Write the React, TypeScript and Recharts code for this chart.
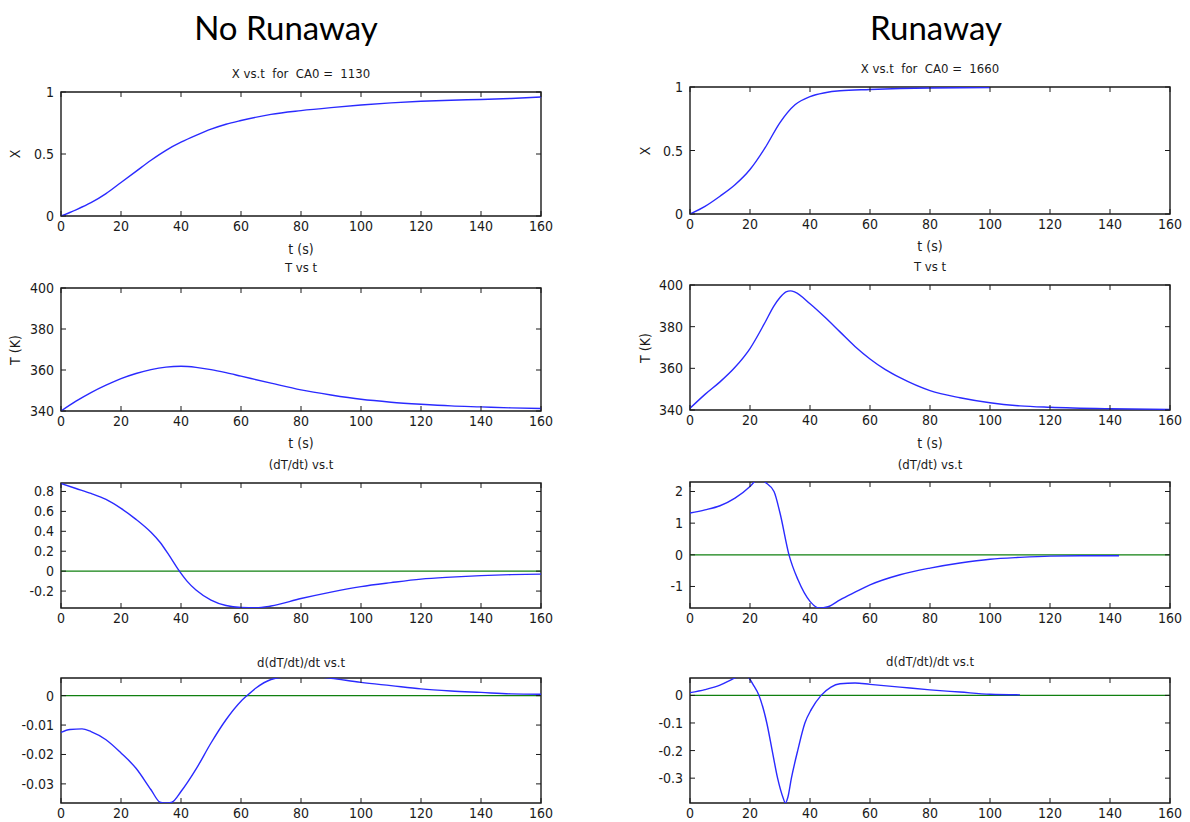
import React from "react";
import { LineChart, Line, XAxis, YAxis, ReferenceLine, ReferenceArea } from "recharts";

// ---------- data ----------
const xTicks = [0, 20, 40, 60, 80, 100, 120, 140, 160];

// No Runaway (CA0 = 1130)
const tX1 = [0, 5, 10, 15, 20, 25, 30, 35, 40, 45, 50, 55, 60, 70, 80, 90, 100, 110, 120, 130, 140, 150, 160];
const vX1 = [0, 0.05, 0.107, 0.18, 0.27, 0.36, 0.45, 0.53, 0.595, 0.65, 0.7, 0.74, 0.77, 0.82, 0.85, 0.874, 0.895, 0.912, 0.925, 0.934, 0.94, 0.948, 0.96];

const tT1 = [0, 5, 10, 15, 20, 25, 30, 35, 40, 45, 50, 55, 60, 70, 80, 90, 100, 110, 120, 130, 140, 150, 160];
const vT1 = [340, 344.8, 349, 352.6, 355.8, 358.3, 360.2, 361.4, 361.8, 361.3, 360.2, 358.7, 357, 353.6, 350.3, 347.8, 345.7, 344.3, 343.3, 342.5, 342, 341.5, 341.2];

const tD1 = [0, 5, 10, 15, 20, 25, 30, 33, 36, 39, 42, 45, 50, 55, 60, 65, 70, 80, 90, 100, 110, 120, 130, 140, 150, 160];
const vD1 = [0.88, 0.83, 0.78, 0.72, 0.63, 0.52, 0.39, 0.29, 0.16, 0.02, -0.1, -0.19, -0.29, -0.345, -0.365, -0.368, -0.35, -0.275, -0.21, -0.155, -0.115, -0.08, -0.06, -0.045, -0.035, -0.03];

const tDD1 = [0, 3, 7, 10, 15, 20, 25, 30, 33, 35, 37, 40, 45, 50, 55, 60, 62, 65, 70, 75, 80, 85, 90, 100, 110, 120, 130, 140, 150, 160];
const vDD1 = [-0.0125, -0.0115, -0.0113, -0.0122, -0.015, -0.0195, -0.0247, -0.032, -0.0362, -0.0365, -0.0362, -0.0326, -0.025, -0.0161, -0.0082, -0.0019, 0, 0.0026, 0.0055, 0.0064, 0.0068, 0.0065, 0.0059, 0.0045, 0.0034, 0.0023, 0.0016, 0.0011, 0.0006, 0.0005];

// Runaway (CA0 = 1660)
const tX2 = [0, 5, 10, 15, 20, 25, 30, 35, 40, 45, 50, 60, 70, 80, 90, 100];
const vX2 = [0, 0.06, 0.14, 0.23, 0.35, 0.52, 0.72, 0.86, 0.925, 0.955, 0.97, 0.98, 0.988, 0.992, 0.994, 0.995];

const tT2 = [0, 5, 10, 15, 20, 25, 28, 30, 32, 33.5, 35, 40, 45, 50, 55, 60, 65, 70, 80, 90, 100, 110, 120, 140, 160];
const vT2 = [340.8, 347.5, 353.5, 360.5, 369.5, 382, 390, 394, 396.7, 397.2, 396.6, 391, 384.5, 377.5, 370.5, 364.5, 359.5, 355.5, 349.3, 345.9, 343.5, 342, 341.3, 340.6, 340.3];

const tD2 = [0, 5, 10, 15, 20, 22, 23.5, 25, 28, 30, 33, 36, 40, 43, 46, 50, 55, 60, 70, 80, 90, 100, 110, 120, 130, 143];
const vD2 = [1.32, 1.42, 1.55, 1.79, 2.16, 2.35, 2.42, 2.3, 2.0, 1.32, 0, -0.79, -1.47, -1.68, -1.64, -1.42, -1.18, -0.95, -0.63, -0.42, -0.26, -0.14, -0.08, -0.04, -0.03, -0.03];

const tDD2 = [0, 5, 10, 14, 16, 18, 19.5, 21, 23, 25.6, 27.4, 29.2, 31, 31.8, 32.6, 33.8, 35.9, 38.3, 40.5, 43.7, 47, 50, 55, 60, 70, 80, 90, 100, 110];
const vDD2 = [0.01, 0.021, 0.037, 0.058, 0.068, 0.072, 0.065, 0.04, 0, -0.1, -0.2, -0.3, -0.37, -0.39, -0.37, -0.3, -0.2, -0.1, -0.05, 0, 0.03, 0.042, 0.045, 0.04, 0.03, 0.02, 0.012, 0.004, 0.002];

const yTicksX = [0, 0.5, 1];
const yTicksT = [340, 360, 380, 400];
const yTicksD1 = [-0.2, 0, 0.2, 0.4, 0.6, 0.8];
const yTicksDD1 = [-0.03, -0.02, -0.01, 0];
const yTicksD2 = [-1, 0, 1, 2];
const yTicksDD2 = [-0.3, -0.2, -0.1, 0];

const zip = (t: number[], v: number[]) => t.map((tt, i) => ({ t: tt, v: v[i] }));

// ---------- styles ----------
const FONT = "'Liberation Sans Narrow', 'DejaVu Sans Condensed', 'Liberation Sans', Arial, sans-serif";
const INK = "#1a1a1a";
const BLUE = "#2a2aff";
const GREEN = "#108010";

const ML = 70; // chart left gutter
const MT = 10; // chart top gutter

type PanelProps = {
  left: number; top: number; w: number; h: number;
  data: { t: number; v: number }[];
  domain: [number, number];
  yTicks: number[];
  title: string; titleY: number;
  xlabelY?: number;
  ylabel?: string; ylabelX?: number;
  zero?: boolean;
};

function Panel(p: PanelProps) {
  const { left, top, w, h, data, domain, yTicks, title, titleY, xlabelY, ylabel, ylabelX, zero } = p;
  const bottomY = MT + h;
  const rightX = ML + w;
  const XTick = (props: any) => {
    const { x, payload } = props;
    return (
      <g>
        <line x1={x} x2={x} y1={bottomY} y2={bottomY - 5} stroke={INK} strokeWidth={1} />
        <line x1={x} x2={x} y1={MT} y2={MT + 5} stroke={INK} strokeWidth={1} />
        <text x={x} y={bottomY + 15} textAnchor="middle" fontFamily={FONT} fontSize={14} fill={INK}>
          {payload.value}
        </text>
      </g>
    );
  };
  const YTick = (props: any) => {
    const { y, payload } = props;
    return (
      <g>
        <line x1={ML} x2={ML + 5} y1={y} y2={y} stroke={INK} strokeWidth={1} />
        <line x1={rightX} x2={rightX - 5} y1={y} y2={y} stroke={INK} strokeWidth={1} />
        <text x={ML - 7} y={y + 5} textAnchor="end" fontFamily={FONT} fontSize={14} fill={INK}>
          {payload.value}
        </text>
      </g>
    );
  };
  return (
    <>
      <div style={{ position: "absolute", left: left - ML, top: top - MT }}>
        <LineChart width={w + ML + 20} height={h + MT + 26} data={data}
          margin={{ top: MT, right: 20, bottom: 0, left: 0 }}>
          <XAxis dataKey="t" type="number" domain={[0, 160]} ticks={xTicks} allowDataOverflow
            height={26} tick={XTick} tickLine={false} axisLine={false} interval={0} />
          <YAxis type="number" domain={domain} ticks={yTicks} allowDataOverflow
            width={ML} tick={YTick} tickLine={false} axisLine={false} interval={0} />
          {zero && <ReferenceLine y={0} stroke={GREEN} strokeWidth={1.3} />}
          <Line dataKey="v" type="monotone" stroke={BLUE} strokeWidth={1.4} dot={false}
            isAnimationActive={false} />
          <ReferenceArea x1={0} x2={160} y1={domain[0]} y2={domain[1]} fill="none" fillOpacity={0}
            stroke={INK} strokeWidth={1.4} ifOverflow="visible" />
        </LineChart>
      </div>
      <div style={{ position: "absolute", left, width: w, top: titleY - 8, textAlign: "center",
        fontFamily: FONT, fontSize: 13, lineHeight: "16px", color: INK, whiteSpace: "pre" }}>
        {title}
      </div>
      {xlabelY !== undefined && (
        <div style={{ position: "absolute", left, width: w, top: xlabelY - 9, textAlign: "center",
          fontFamily: FONT, fontSize: 14, lineHeight: "18px", color: INK, whiteSpace: "pre" }}>
          t (s)
        </div>
      )}
      {ylabel && (
        <div style={{ position: "absolute", left: (ylabelX ?? 15) - 50, width: 100, top: top + h / 2 - 9,
          textAlign: "center", fontFamily: FONT, fontSize: 14, lineHeight: "18px", color: INK,
          transform: "rotate(-90deg)", whiteSpace: "pre" }}>
          {ylabel}
        </div>
      )}
    </>
  );
}

export default function App() {
  const HEAD = { position: "absolute" as const, top: 6, width: 300, textAlign: "center" as const,
    fontFamily: "Lato, 'Open Sans', sans-serif", fontSize: 33, lineHeight: "42px", color: "#000" };
  return (
    <div style={{ position: "absolute", left: 0, top: 0, width: 1190, height: 822, background: "#fff", overflow: "hidden" }}>
      <div style={{ ...HEAD, left: 286 - 150 }}>No Runaway</div>
      <div style={{ ...HEAD, left: 936 - 150 }}>Runaway</div>

      <Panel left={61} top={92} w={480} h={124} data={zip(tX1, vX1)} domain={[0, 1]} yTicks={yTicksX}
        title={"X vs.t  for  CA0 =  1130"} titleY={74} xlabelY={249} ylabel="X" ylabelX={15} />
      <Panel left={61} top={288} w={480} h={123} data={zip(tT1, vT1)} domain={[340, 400]} yTicks={yTicksT}
        title={"T vs t"} titleY={268} xlabelY={443} ylabel="T (K)" ylabelX={15} />
      <Panel left={61} top={483} w={480} h={125} data={zip(tD1, vD1)} domain={[-0.37, 0.885]} yTicks={yTicksD1}
        title={"(dT/dt) vs.t"} titleY={465} zero />
      <Panel left={61} top={678} w={480} h={125} data={zip(tDD1, vDD1)} domain={[-0.0365, 0.006]} yTicks={yTicksDD1}
        title={"d(dT/dt)/dt vs.t"} titleY={663} zero />

      <Panel left={690} top={87} w={480} h={127} data={zip(tX2, vX2)} domain={[0, 1]} yTicks={yTicksX}
        title={"X vs.t  for  CA0 =  1660"} titleY={69} xlabelY={246} ylabel="X" ylabelX={645} />
      <Panel left={690} top={285} w={480} h={125} data={zip(tT2, vT2)} domain={[340, 400]} yTicks={yTicksT}
        title={"T vs t"} titleY={267} xlabelY={443} ylabel="T (K)" ylabelX={645} />
      <Panel left={690} top={482} w={480} h={126} data={zip(tD2, vD2)} domain={[-1.68, 2.3]} yTicks={yTicksD2}
        title={"(dT/dt) vs.t"} titleY={465} zero />
      <Panel left={690} top={678} w={480} h={125} data={zip(tDD2, vDD2)} domain={[-0.39, 0.063]} yTicks={yTicksDD2}
        title={"d(dT/dt)/dt vs.t"} titleY={662} zero />
    </div>
  );
}
